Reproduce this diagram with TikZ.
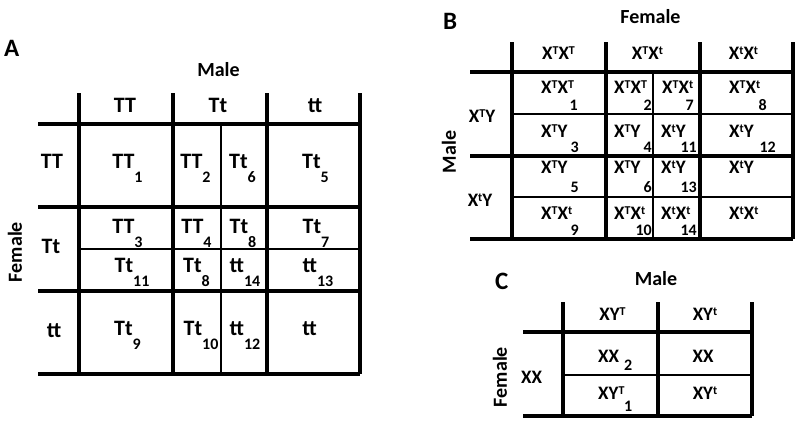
\documentclass[tikz,border=0pt]{standalone}
\usepackage{fontspec}
\setmainfont{Carlito}
\usepackage{tikz}

% lowered number after a genotype, raised allele letter
\newcommand{\lo}[1]{\raisebox{-14.5pt}{\fontsize{16}{16}\selectfont #1}}
\newcommand{\up}[1]{\raisebox{4.5pt}{\fontsize{12}{12}\selectfont #1}}

\begin{document}
\begin{tikzpicture}[x=1pt, y=-1pt,
    every node/.style={inner sep=0pt, font=\bfseries\fontsize{19}{19}\selectfont},
    fat/.style={line width=3.2pt},
    slim/.style={line width=1.2pt},
    big/.style={font=\bfseries\fontsize{22}{22}\selectfont, anchor=base},
    mid/.style={anchor=base},
    left/.style={anchor=base west},
    num/.style={anchor=base east, font=\bfseries\fontsize{16}{16}\selectfont},
    numl/.style={anchor=base west, font=\bfseries\fontsize{16}{16}\selectfont},
    sex/.style={font=\bfseries\fontsize{20}{20}\selectfont},
    panel/.style={anchor=base west, font=\bfseries\fontsize{25}{25}\selectfont}]
    \useasboundingbox (0,0) rectangle (800,426);

    % panel A
    \node (pA)[panel] at (4,56) {A};
    \node (maleA)[sex, anchor=base] at (218.5,76) {Male};
    \node (femA)[sex, rotate=90] at (15,252) {Female};
    \draw[fat] (79,93) -- (79,374) (173,93) -- (173,374)
        (267,93) -- (267,374) (360,93) -- (360,374);
    \draw[fat] (38,124) -- (360,124) (38,207) -- (360,207)
        (38,291) -- (360,291) (38,374) -- (360,374);
    \draw[slim] (79,249) -- (360,249) (221,124) -- (221,374);
    \node (hTT)[big] at (125,112) {TT};
    \node (hTt)[big] at (218,112) {Tt};
    \node (htt)[big] at (315,112) {tt};
    \node (rTT)[big] at (52,168) {TT};
    \node (rTt)[big] at (51,253) {Tt};
    \node (rtt)[big] at (54,337) {tt};
    \node (a1)[big] at (127.5,168) {TT\lo{1}};
    \node (a2)[big] at (195.5,168) {TT\lo{2}};
    \node (a6)[big] at (242.5,168) {Tt\lo{6}};
    \node (a5)[big] at (315.5,168) {Tt\lo{5}};
    \node (a3)[big] at (127.5,233) {TT\lo{3}};
    \node (a4)[big] at (196.5,233) {TT\lo{4}};
    \node (a8)[big] at (243,233) {Tt\lo{8}};
    \node (a7)[big] at (316,233) {Tt\lo{7}};
    \node (a11)[big] at (132,272) {Tt\lo{11}};
    \node (a8b)[big] at (196.5,272) {Tt\lo{8}};
    \node (a14)[big] at (245,272) {tt\lo{14}};
    \node (a13)[big] at (318,272) {tt\lo{13}};
    \node (a9)[big] at (127.5,335) {Tt\lo{9}};
    \node (a10)[big] at (201,335) {Tt\lo{10}};
    \node (a12)[big] at (245,335) {tt\lo{12}};
    \node (att)[big] at (309.5,335) {tt};

    % panel B
    \node (pB)[panel] at (443,29) {B};
    \node (femB)[sex, anchor=base] at (650.5,23) {Female};
    \node (maleB)[sex, rotate=90] at (449,152) {Male};
    \draw[fat] (512,42) -- (512,239) (606,42) -- (606,239)
        (700,42) -- (700,239) (793,42) -- (793,239);
    \draw[fat] (470,72) -- (793,72) (470,156) -- (793,156)
        (470,239) -- (793,239);
    \draw[slim] (512,114) -- (793,114) (512,197) -- (793,197)
        (653,72) -- (653,239);
    \node (hTT)[mid] at (558.5,59) {X\up{T}X\up{T}};
    \node (hTt)[mid] at (647.5,59) {X\up{T}X\up{t}};
    \node (htt)[mid] at (743.5,59) {X\up{t}X\up{t}};
    \node (rTY)[mid] at (482,122) {X\up{T}Y};
    \node (rtY)[mid] at (480,206) {X\up{t}Y};
    \node (b1)[left] at (541,93) {X\up{T}X\up{T}};
    \node (n1)[num] at (578,110) {1};
    \node (b2)[left] at (614,93) {X\up{T}X\up{T}};
    \node (n2)[num] at (652,110) {2};
    \node (b7)[left] at (662,93) {X\up{T}X\up{t}};
    \node (n7)[num] at (694,110) {7};
    \node (b8)[left] at (729,93) {X\up{T}X\up{t}};
    \node (n8)[num] at (767,110) {8};
    \node (b3)[left] at (541,137) {X\up{T}Y};
    \node (n3)[num] at (579,152) {3};
    \node (b4)[left] at (614,137) {X\up{T}Y};
    \node (n4)[num] at (652,152) {4};
    \node (b11)[left] at (661,137) {X\up{t}Y};
    \node (n11)[num] at (697,152) {11};
    \node (b12)[left] at (729,137) {X\up{t}Y};
    \node (n12)[num] at (776,152) {12};
    \node (b5)[left] at (541,173) {X\up{T}Y};
    \node (n5)[num] at (579,192) {5};
    \node (b6)[left] at (614,173) {X\up{T}Y};
    \node (n6)[num] at (652,192) {6};
    \node (b13)[left] at (661,173) {X\up{t}Y};
    \node (n13)[num] at (697,192) {13};
    \node (bXtY)[left] at (729,173) {X\up{t}Y};
    \node (b9)[left] at (541,219) {X\up{T}X\up{t}};
    \node (n9)[num] at (579,235) {9};
    \node (b10)[left] at (614,219) {X\up{T}X\up{t}};
    \node (n10)[num] at (652,235) {10};
    \node (b14)[left] at (661,219) {X\up{t}X\up{t}};
    \node (n14)[num] at (697,235) {14};
    \node (bXtXt)[left] at (729,219) {X\up{t}X\up{t}};

    % panel C
    \node (pC)[panel] at (495,289) {C};
    \node (maleC)[sex, anchor=base] at (656,285) {Male};
    \node (femC)[sex, rotate=90] at (500,377) {Female};
    \draw[fat] (563,302) -- (563,416) (658,302) -- (658,416)
        (752,302) -- (752,416);
    \draw[fat] (523,332) -- (752,332) (523,416) -- (752,416);
    \draw[slim] (563,375) -- (752,375);
    \node (hYT)[mid] at (612.5,320) {XY\up{T}};
    \node (hYt)[mid] at (705,320) {XY\up{t}};
    \node (rXX)[mid] at (531.5,383) {XX};
    \node (c2)[left] at (598,362) {XX};
    \node (m2)[numl] at (624,370) {2};
    \node (cXX)[mid] at (703,362) {XX};
    \node (c1)[left] at (598,399) {XY\up{T}};
    \node (m1)[numl] at (624,411) {1};
    \node (cXYt)[mid] at (705,399) {XY\up{t}};
\end{tikzpicture}
\end{document}
